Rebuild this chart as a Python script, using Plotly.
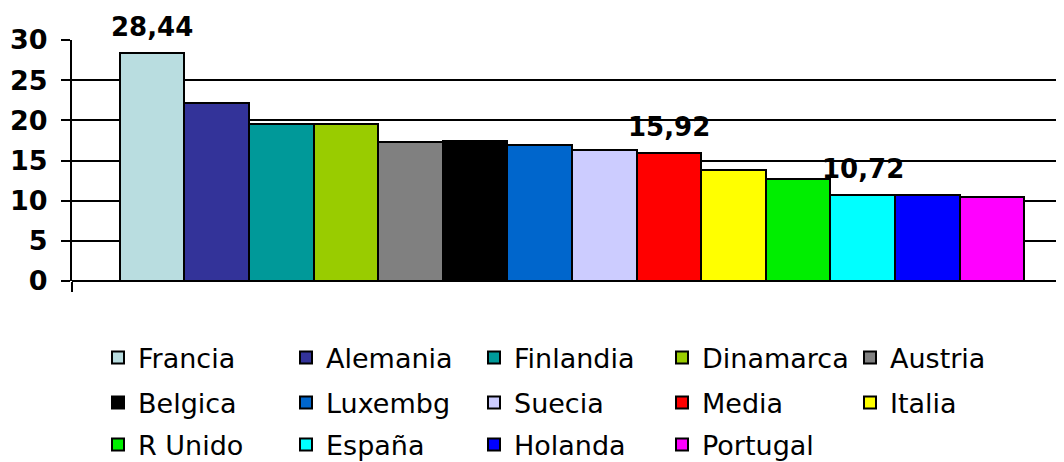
import plotly.graph_objects as go

PAISES = ["Francia", "Alemania", "Finlandia", "Dinamarca", "Austria",
          "Belgica", "Luxembg", "Suecia", "Media", "Italia",
          "R Unido", "España", "Holanda", "Portugal"]
VALORES = [28.44, 22.1, 19.5, 19.5, 17.3,
           17.4, 16.9, 16.3, 15.92, 13.8,
           12.7, 10.72, 10.75, 10.4]
COLORES = ["#B9DDE0", "#333399", "#009999", "#99CC00", "#808080",
           "#000000", "#0066CC", "#CCCCFF", "#FF0000", "#FFFF00",
           "#00EE00", "#00FFFF", "#0000FF", "#FF00FF"]
ETIQUETADOS = ["Francia", "Media", "España"]

FUENTE = "DejaVu Sans, Verdana, sans-serif"
LEYENDAS = ["legend", "legend2", "legend3"]   # una leyenda por fila (5 por fila)

fig = go.Figure()
for i, (pais, valor, color) in enumerate(zip(PAISES, VALORES, COLORES)):
    fig.add_trace(go.Bar(
        x=[pais], y=[valor], name=pais, legend=LEYENDAS[i // 5],
        marker=dict(color=color, line=dict(color="black", width=2)),
    ))

# etiquetas de valor sobre algunas barras
for pais, valor in zip(PAISES, VALORES):
    if pais in ETIQUETADOS:
        fig.add_annotation(
            x=pais, y=valor, text=f"{valor:.2f}".replace(".", ","),
            showarrow=False, yanchor="bottom", yshift=9,
            font=dict(family=FUENTE, size=26, color="black", weight="bold"),
        )

fig.update_xaxes(
    range=[-1.24, 14.24], showticklabels=False, showgrid=False,
    ticks="outside", tickvals=[-1.24], ticklen=10, tickwidth=2, tickcolor="black",
    zeroline=False, showline=False, fixedrange=True,
)
fig.update_yaxes(
    range=[0, 30], dtick=5, showgrid=True, gridcolor="black", gridwidth=2,
    zeroline=True, zerolinecolor="black", zerolinewidth=2,
    showline=True, linecolor="black", linewidth=2,
    ticks="outside", ticklen=9, tickwidth=2, tickcolor="black",
    ticklabelstandoff=8,
    tickfont=dict(family=FUENTE, size=27, color="black", weight="bold"),
)

ALTO = 462
estilo_leyenda = dict(
    orientation="h", xref="container", yref="container",
    x=90 / 1064, xanchor="left", yanchor="middle",
    font=dict(family=FUENTE, size=27, color="black"),
    entrywidth=143, entrywidthmode="pixels", traceorder="normal",
    bgcolor="rgba(0,0,0,0)",
)
# la página deja 8 px de margen arriba/izquierda
filas_y = [1 - 350 / ALTO, 1 - 395 / ALTO, 1 - 437 / ALTO]

fig.update_layout(
    width=1064, height=ALTO,
    barmode="overlay", bargap=0,
    plot_bgcolor="white", paper_bgcolor="white",
    margin=dict(l=64, r=0, t=32, b=189),
    font=dict(family=FUENTE, color="black"),
    showlegend=True,
    legend=dict(estilo_leyenda, y=filas_y[0]),
    legend2=dict(estilo_leyenda, y=filas_y[1]),
    legend3=dict(estilo_leyenda, y=filas_y[2]),
)

fig.write_html("out.html")
